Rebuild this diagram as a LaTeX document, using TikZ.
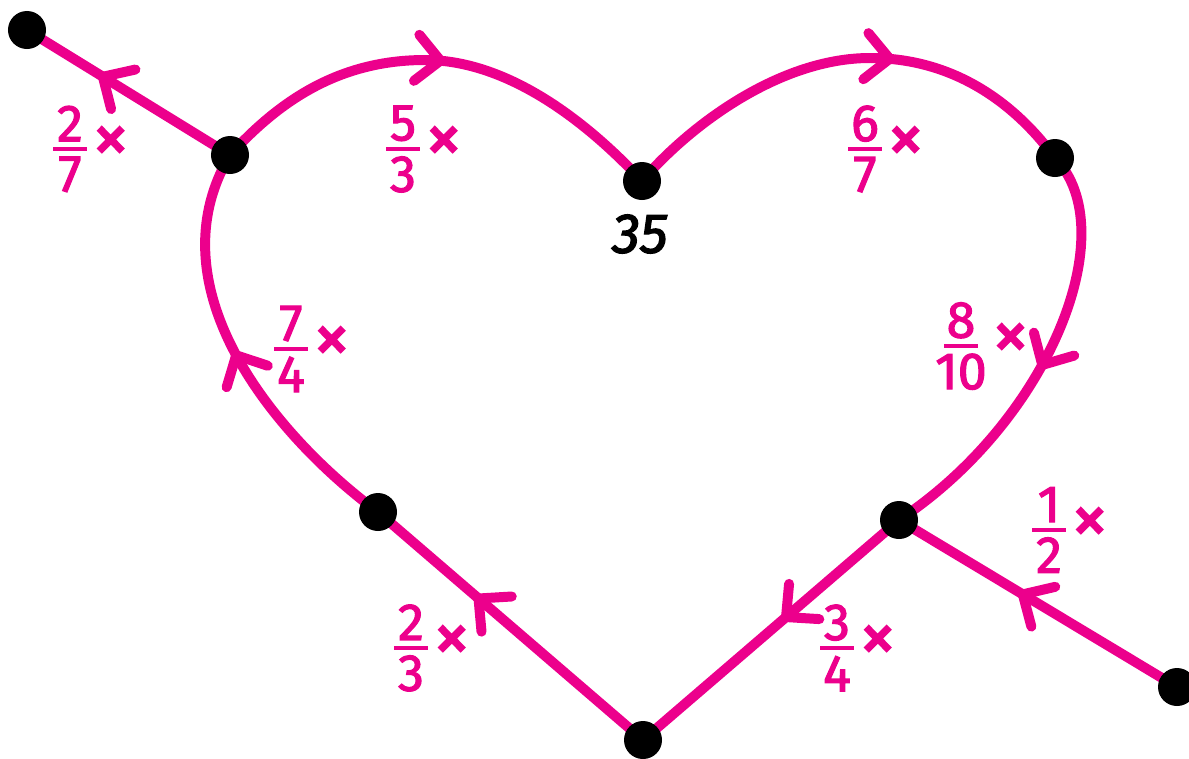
\documentclass[tikz,border=0pt]{standalone}
\usepackage{fontspec}
\setmainfont{Fira Sans}
\newfontfamily\labfont[FakeBold=2.2]{Fira Sans}
\usetikzlibrary{arrows.meta,decorations.markings,backgrounds}
\definecolor{pk}{RGB}{236,0,140}
\newcommand\fracx[2]{$\vcenter{\hbox{\shortstack{#1\\[1pt]\rule{24pt}{3pt}\\[1pt]#2}}}$\hspace{4pt}\raisebox{-3pt}{\scalebox{1.4}{×}}}
\begin{document}
\begin{tikzpicture}[x=0.025cm,y=-0.025cm,
 dot/.style={circle,fill=black,inner sep=0pt,minimum size=0.95cm},
 lnk/.style={draw=pk,line width=7.1pt,line cap=round,line join=round},
 arr/.style={postaction={decorate},decoration={markings,mark=at position #1 with {\arrow{Straight Barb[length=17pt,width=33pt,round]}}}},
 lab/.style={text=pk,font=\labfont\fontsize{37}{42}\selectfont,inner sep=0pt}]
\useasboundingbox (0,0) rectangle (1189,758);
\node[dot] (a) at (27,30) {};
\node[dot] (b) at (230,155) {};
\node[dot] (c) at (642,181) {};
\node[dot] (d) at (1055,158) {};
\node[dot] (e) at (899,520) {};
\node[dot] (f) at (1177,687) {};
\node[dot] (g) at (643,740) {};
\node[dot] (h) at (378,512) {};
\begin{scope}[on background layer]
\draw[lnk,arr=0.647] (b.center) -- (a.center);
\draw[lnk,arr=0.51] (b.center) .. controls (280,100) and (340,60) .. (425,60) .. controls (510,60) and (590,125) .. (c.center);
\draw[lnk,arr=0.6] (c.center) .. controls (690,125) and (780,58) .. (870,58) .. controls (960,58) and (1020,110) .. (d.center);
\draw[lnk,arr=0.52] (d.center) .. controls (1125,230) and (1050,420) .. (e.center);
\draw[lnk,arr=0.456] (e.center) -- (g.center);
\draw[lnk,arr=0.57] (f.center) -- (e.center);
\draw[lnk,arr=0.635] (g.center) -- (h.center);
\draw[lnk,arr=0.515] (h.center) .. controls (280,440) and (150,290) .. (b.center);
\end{scope}
\node[lab] (l1) at (91,149) {\fracx{2}{7}};
\node[lab] (l2) at (424,149) {\fracx{5}{3}};
\node[lab] (l3) at (886,149) {\fracx{6}{7}};
\node[lab] (l4) at (982,346) {\fracx{8}{10}};
\node[lab] (l5) at (1070,530) {\fracx{1}{2}};
\node[lab] (l6) at (858,648) {\fracx{3}{4}};
\node[lab] (l7) at (432,648) {\fracx{2}{3}};
\node[lab] (l8) at (312,349) {\fracx{7}{4}};
\node[font=\labfont\fontsize{40}{46}\selectfont\itshape,inner sep=0pt] (t35) at (640,234) {35};
\end{tikzpicture}
\end{document}
